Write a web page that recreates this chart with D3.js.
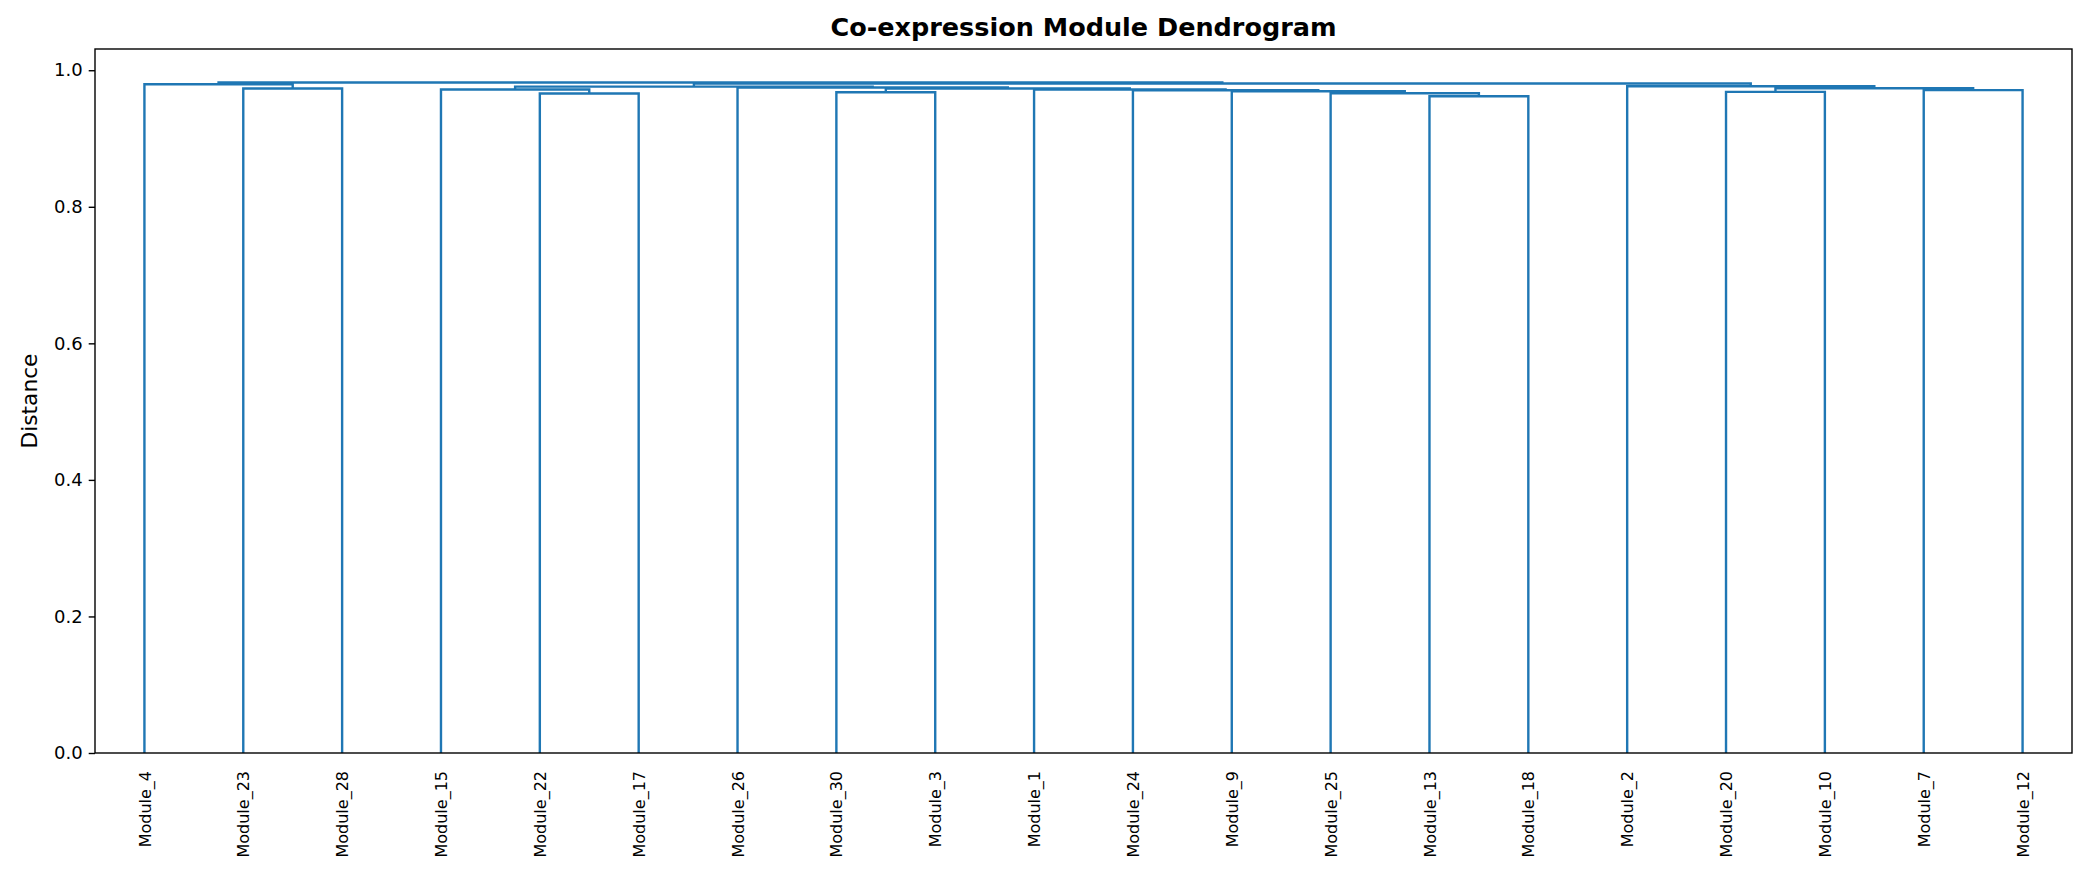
<!DOCTYPE html>
<html lang="en">
<head>
    <meta charset="UTF-8">
    <title>Co-expression Module Dendrogram</title>
    <script src="https://d3js.org/d3.v7.min.js"></script>
    <style>
        body { margin: 0; background: #fff; }
        text { font-family: 'DejaVu Sans', sans-serif; fill: #000; }
    </style>
</head>
<body>

<script>
    const width  = 2082;
    const height = 884;
    const plot = {left: 95, right: 2072, top: 49, bottom: 753};

    // leaves in dendrogram order (left to right)
    const leafLabels = [
        "Module_4", "Module_23", "Module_28", "Module_15", "Module_22",
        "Module_17", "Module_26", "Module_30", "Module_3", "Module_1",
        "Module_24", "Module_9", "Module_25", "Module_13", "Module_18",
        "Module_2", "Module_20", "Module_10", "Module_7", "Module_12"
    ];

    // linkage rows: [left id, right id, distance]; ids < 20 are leaves, id 20+k is row k
    const linkage = [
        [13, 14, 0.9620],
        [4, 5, 0.9660],
        [12, 20, 0.9662],
        [7, 8, 0.9678],
        [16, 17, 0.9683],
        [11, 22, 0.9693],
        [10, 25, 0.9707],
        [18, 19, 0.9708],
        [9, 26, 0.9717],
        [3, 21, 0.9717],
        [1, 2, 0.9732],
        [23, 28, 0.9732],
        [24, 27, 0.9737],
        [6, 31, 0.9747],
        [29, 33, 0.9760],
        [15, 32, 0.9766],
        [0, 30, 0.9795],
        [34, 35, 0.9805],
        [36, 37, 0.9820]
    ];

    const yTicks = [0, 0.2, 0.4, 0.6, 0.8, 1.0];

    const color = "#1f77b4";

    const x = d3.scaleLinear()
                .domain([0, leafLabels.length * 10])
                .range([plot.left, plot.right]);

    const y = d3.scaleLinear()
                .domain([0, d3.max(linkage, d => d[2]) * 1.05])
                .range([plot.bottom, plot.top]);

    const svg = d3.select("body")
                  .append("svg").attr("width", width).attr("height", height);

    // position of every node in data units: leaves at 5, 15, 25 ...
    const n = leafLabels.length;
    const nodes = leafLabels.map((d, i) => ({pos: 5 + 10 * i, dist: 0}));
    linkage.forEach(([a, b, h]) => {
        nodes.push({pos: (nodes[a].pos + nodes[b].pos) / 2, dist: h, a: a, b: b});
    });

    const links = nodes.slice(n);

    svg.append("g")
       .selectAll("path")
       .data(links)
       .join("path")
       .attr("d", d => {
           const l = nodes[d.a], r = nodes[d.b];
           return "M" + x(l.pos) + "," + y(l.dist) +
                  "V" + y(d.dist) +
                  "H" + x(r.pos) +
                  "V" + y(r.dist);
       })
       .attr("fill", "none")
       .attr("stroke", color)
       .attr("stroke-width", 2.4);

    // frame
    svg.append("rect")
       .attr("x", plot.left).attr("y", plot.top)
       .attr("width", plot.right - plot.left)
       .attr("height", plot.bottom - plot.top)
       .attr("fill", "none")
       .attr("stroke", "#000")
       .attr("stroke-width", 1.4);

    // y axis
    const yAxis = svg.append("g")
                     .attr("transform", "translate(" + plot.left + ",0)")
                     .call(d3.axisLeft(y).tickValues(yTicks).tickFormat(d3.format(".1f"))
                             .tickSize(6.3).tickPadding(6));
    yAxis.select(".domain").remove();
    yAxis.selectAll(".tick line").attr("stroke", "#000").attr("stroke-width", 1.4);
    yAxis.selectAll(".tick text")
         .style("font-family", "'DejaVu Sans', sans-serif")
         .style("font-size", "18px")
         .attr("fill", "#000");

    // x axis labels, rotated, no tick marks
    const xAxis = svg.append("g")
                     .attr("transform", "translate(0," + plot.bottom + ")")
                     .call(d3.axisBottom(x)
                             .tickValues(leafLabels.map((d, i) => 5 + 10 * i))
                             .tickFormat((d, i) => leafLabels[i])
                             .tickSize(0));
    xAxis.select(".domain").remove();
    xAxis.selectAll(".tick text")
         .style("font-family", "'DejaVu Sans', sans-serif")
         .style("font-size", "16px")
         .attr("fill", "#000")
         .attr("text-anchor", "end")
         .attr("transform", "rotate(-90)")
         .attr("x", -18)
         .attr("y", 0)
         .attr("dy", "0.35em");

    svg.append("text")
       .text("Co-expression Module Dendrogram")
       .attr("x", (plot.left + plot.right) / 2)
       .attr("y", 36)
       .attr("text-anchor", "middle")
       .style("font-size", "25.5px")
       .style("font-weight", "bold");

    svg.append("text")
       .text("Distance")
       .attr("text-anchor", "middle")
       .attr("transform", "translate(37," + (plot.top + plot.bottom) / 2 + ") rotate(-90)")
       .style("font-size", "21.7px");
</script>

</body>
</html>
